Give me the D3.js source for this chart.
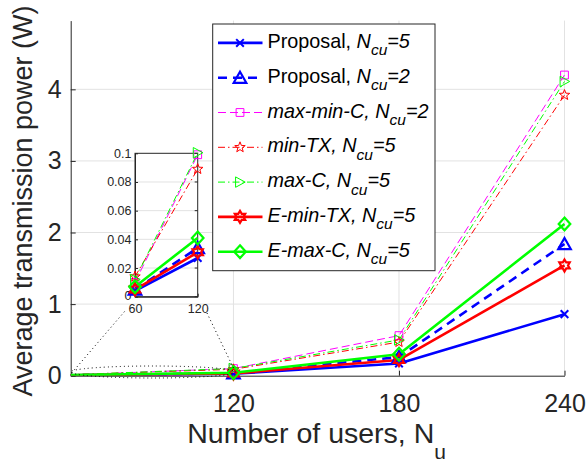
<!DOCTYPE html>
<html><head><meta charset="utf-8">
<script src="https://cdn.jsdelivr.net/npm/d3@7"></script>
<style>
body{margin:0;background:#fff}
svg{display:block}
text{font-family:"Liberation Sans",Arial,Helvetica,sans-serif}
</style>
</head><body>
<svg id="c" width="587" height="464"></svg>
<script>
// ---------- data ----------
const users      = [60, 120, 180, 240];
const proposal5  = [0.004, 0.027, 0.17, 0.86];
const proposal2  = [0.005, 0.034, 0.26, 1.84];
const maxMinC2   = [0.010, 0.099, 0.56, 4.20];
const minTX5     = [0.014, 0.089, 0.47, 3.92];
const maxC5      = [0.012, 0.1004, 0.50, 4.11];
const eMinTX5    = [0.005, 0.031, 0.22, 1.54];
const eMaxC5     = [0.007, 0.041, 0.30, 2.12];

const seriesNames = ["Proposal", "Proposal", "max-min-C", "min-TX", "max-C", "E-min-TX", "E-max-C"];
const seriesNcu   = [5, 2, 2, 5, 5, 5, 5];

const mainXTicks  = [120, 180, 240];
const mainYTicks  = [0, 1, 2, 3, 4];
const insetXTicks = [60, 120];
const insetYTicks = [0, 0.02, 0.04, 0.06, 0.08, 0.1];

const xLabel = "Number of users, N";
const xLabelSub = "u";
const yLabel = "Average transmission power (W)";

// ---------- styles ----------
const values = [proposal5, proposal2, maxMinC2, minTX5, maxC5, eMinTX5, eMaxC5];
const styles = [
  {color:"#0000ff", w:2.6, dash:null,        marker:"x",     ms:3.8, mw:2},
  {color:"#0000ff", w:2.6, dash:"9,6",       marker:"tri",   ms:6,   mw:2.2},
  {color:"#ff00ff", w:1,   dash:"8,4",       marker:"sq",    ms:3.9, mw:1},
  {color:"#ff0000", w:1,   dash:"7,3,1.5,3", marker:"pent",  ms:5.5, mw:1},
  {color:"#00ff00", w:1,   dash:"7,3,1.5,3", marker:"triR",  ms:5.2, mw:1},
  {color:"#ff0000", w:2.6, dash:null,        marker:"hex",   ms:6,   mw:2.2},
  {color:"#00ff00", w:2.6, dash:null,        marker:"dia",   ms:5.8, mw:2.2}
];

function star(n, ro, ri){
  let p = [];
  for(let i=0;i<2*n;i++){
    const r = i%2===0 ? ro : ri;
    const a = -Math.PI/2 + i*Math.PI/n;
    p.push([r*Math.cos(a), r*Math.sin(a)]);
  }
  return "M" + p.map(d=>d[0].toFixed(2)+","+d[1].toFixed(2)).join("L") + "Z";
}
function markerPath(type, s){
  switch(type){
    case "x":   return `M${-s},${-s}L${s},${s}M${-s},${s}L${s},${-s}`;
    case "tri": return `M0,${-s}L${s*1.05},${s*0.85}L${-s*1.05},${s*0.85}Z`;
    case "sq":  return `M${-s},${-s}L${s},${-s}L${s},${s}L${-s},${s}Z`;
    case "pent":return star(5, s, s*0.42);
    case "triR":return `M${s},0L${-s*0.85},${-s}L${-s*0.85},${s}Z`;
    case "hex": return star(6, s, s*0.58);
    case "dia": return `M0,${-s*1.1}L${s},0L0,${s*1.1}L${-s},0Z`;
  }
}

const svg = d3.select("#c");
const axisColor = "#262626", gridColor = "#e2e2e2";

// ---------- main plot ----------
const x = d3.scaleLinear().domain([61, 240]).range([70.7, 564.5]);
const y = d3.scaleLinear().domain([0, 4.96]).range([375.7, 20.6]);

svg.append("defs").append("clipPath").attr("id","mainclip")
  .append("rect").attr("x",70.7).attr("y",0).attr("width",564.5-70.7+10).attr("height",375.7);

const grid = svg.append("g");
grid.selectAll(".gy").data(mainYTicks.filter(d=>d>0)).join("line")
  .attr("x1",x.range()[0]).attr("x2",x.range()[1])
  .attr("y1",d=>y(d)).attr("y2",d=>y(d))
  .attr("stroke",gridColor).attr("stroke-width",1);
grid.selectAll(".gx").data(mainXTicks).join("line")
  .attr("x1",d=>x(d)).attr("x2",d=>x(d))
  .attr("y1",y.range()[0]).attr("y2",y.range()[1])
  .attr("stroke",gridColor).attr("stroke-width",1);

function styleAxis(g, fs){
  g.attr("font-family",null).attr("font-size",null);
  g.select(".domain").attr("stroke",axisColor).attr("stroke-width",1);
  g.selectAll(".tick line").attr("stroke",axisColor);
  g.selectAll(".tick text").attr("fill",axisColor).style("font-size",fs+"px");
}
const gx = svg.append("g").attr("transform",`translate(0,${y(0)})`)
  .call(d3.axisBottom(x).tickValues(mainXTicks).tickSize(-5).tickSizeOuter(0).tickPadding(18.5).tickFormat(d3.format("d")));
styleAxis(gx, 25);
const gy = svg.append("g").attr("transform",`translate(${x.range()[0]},0)`)
  .call(d3.axisLeft(y).tickValues(mainYTicks).tickSize(-5).tickSizeOuter(0).tickPadding(9).tickFormat(d3.format("d")));
styleAxis(gy, 25);

const line = d3.line().x((d,i)=>x(users[i])).y(d=>y(d));
const plot = svg.append("g").attr("clip-path","url(#mainclip)");
values.forEach((vals, k)=>{
  const st = styles[k];
  plot.append("path").attr("d", line(vals)).attr("fill","none")
    .attr("stroke",st.color).attr("stroke-width",st.w)
    .attr("stroke-dasharray",st.dash).attr("stroke-linejoin","round");
});
const markLayer = svg.append("g");
values.forEach((vals, k)=>{
  const st = styles[k];
  markLayer.selectAll(null).data(vals.slice(1)).join("path")
    .attr("transform",(d,i)=>`translate(${x(users[i+1])},${y(d)})`)
    .attr("d", markerPath(st.marker, st.ms))
    .attr("fill","none").attr("stroke",st.color).attr("stroke-width",st.mw)
    .attr("stroke-linejoin","miter");
});

// axis labels
const xl = svg.append("text").attr("x",(x.range()[0]+x.range()[1])/2 - 1).attr("y",443.3)
  .attr("text-anchor","middle").attr("fill",axisColor).style("font-size","28.5px");
xl.append("tspan").text(xLabel);
xl.append("tspan").attr("dy",16).style("font-size","21px").text(xLabelSub);

svg.append("text").attr("transform",`translate(31.5,201) rotate(-90)`)
  .attr("text-anchor","middle").attr("fill",axisColor).style("font-size","27px").text(yLabel);

// ---------- inset ----------
const xi = d3.scaleLinear().domain([60,120]).range([135, 197.7]);
const yi = d3.scaleLinear().domain([0,0.1]).range([296.7, 153.3]);
const inset = svg.append("g");
inset.append("rect").attr("x",xi.range()[0]).attr("y",yi.range()[1])
  .attr("width",xi.range()[1]-xi.range()[0]).attr("height",yi.range()[0]-yi.range()[1])
  .attr("fill","#fff");
inset.selectAll(".ig").data(insetYTicks.filter(d=>d>0 && d<0.1)).join("line")
  .attr("x1",xi.range()[0]).attr("x2",xi.range()[1])
  .attr("y1",d=>yi(d)).attr("y2",d=>yi(d)).attr("stroke",gridColor);
const fmtI = d => d===0 ? "0" : String(+d.toFixed(2));
const gyi = inset.append("g").attr("transform",`translate(${xi.range()[0]},0)`)
  .call(d3.axisLeft(yi).tickValues(insetYTicks).tickSize(-3).tickSizeOuter(0).tickPadding(3.5).tickFormat(fmtI));
styleAxis(gyi, 12.5);
gyi.selectAll(".tick text").filter(d=>d===0).attr("dy","0.2em");
const gxi = inset.append("g").attr("transform",`translate(0,${yi.range()[0]})`)
  .call(d3.axisBottom(xi).tickValues(insetXTicks).tickSize(-3).tickSizeOuter(0).tickPadding(7.5).tickFormat(d3.format("d")));
styleAxis(gxi, 12.5);
// mirrored ticks on right side
inset.selectAll(".rt").data(insetYTicks).join("line")
  .attr("x1",xi.range()[1]).attr("x2",xi.range()[1]-3)
  .attr("y1",d=>yi(d)).attr("y2",d=>yi(d)).attr("stroke",axisColor);
inset.append("rect").attr("x",xi.range()[0]).attr("y",yi.range()[1])
  .attr("width",xi.range()[1]-xi.range()[0]).attr("height",yi.range()[0]-yi.range()[1])
  .attr("fill","none").attr("stroke",axisColor).attr("stroke-width",1);

const lineI = d3.line().x((d,i)=>xi(users[i])).y(d=>yi(d));
values.forEach((vals, k)=>{
  const st = styles[k];
  const sub = vals.slice(0,2);
  inset.append("path").attr("d", lineI(sub)).attr("fill","none")
    .attr("stroke",st.color).attr("stroke-width",st.w)
    .attr("stroke-dasharray",st.dash);
});
values.forEach((vals, k)=>{
  const st = styles[k];
  inset.selectAll(null).data(vals.slice(0,2)).join("path")
    .attr("transform",(d,i)=>`translate(${xi(users[i])},${yi(d)})`)
    .attr("d", markerPath(st.marker, st.ms))
    .attr("fill","none").attr("stroke",st.color).attr("stroke-width",st.mw);
});

// zoom ellipse + connectors
const zoomG = svg.append("g").attr("fill","none").attr("stroke","#000")
  .attr("stroke-width",1).attr("stroke-dasharray","1,3");
zoomG.append("ellipse").attr("cx",(x(61)+x(120))/2+1).attr("cy",372).attr("rx",(x(120)-x(61))/2+1).attr("ry",6);
zoomG.append("line").attr("x1",x(61)+1).attr("y1",373).attr("x2",125).attr("y2",311);
zoomG.append("line").attr("x1",x(120)).attr("y1",368).attr("x2",206).attr("y2",311);

// ---------- legend ----------
const lg = svg.append("g");
lg.append("rect").attr("x",212.7).attr("y",24).attr("width",435-212.7).attr("height",270.7-24)
  .attr("fill","#fff").attr("stroke",axisColor).attr("stroke-width",1);
seriesNames.forEach((name,k)=>{
  const st = styles[k];
  const cy = 42.9 + k*34.8;
  lg.append("line").attr("x1",218).attr("x2",262.5).attr("y1",cy).attr("y2",cy)
    .attr("stroke",st.color).attr("stroke-width",st.w).attr("stroke-dasharray",st.dash);
  lg.append("path").attr("transform",`translate(240,${cy})`)
    .attr("d",markerPath(st.marker, st.ms)).attr("fill","none")
    .attr("stroke",st.color).attr("stroke-width",st.mw);
  const t = lg.append("text").attr("x",267.5).attr("y",cy+5).attr("fill","#000").style("font-size","19.8px");
  const roman = name === "Proposal";
  t.append("tspan").style("font-style", roman ? "normal" : "italic").text(name + ", ");
  t.append("tspan").style("font-style","italic").text("N");
  t.append("tspan").style("font-style","italic").style("font-size","15.5px").attr("dy",7.5).text("cu");
  t.append("tspan").style("font-style","italic").attr("dy",-7.5).text("=" + seriesNcu[k]);
});
</script>
</body></html>
